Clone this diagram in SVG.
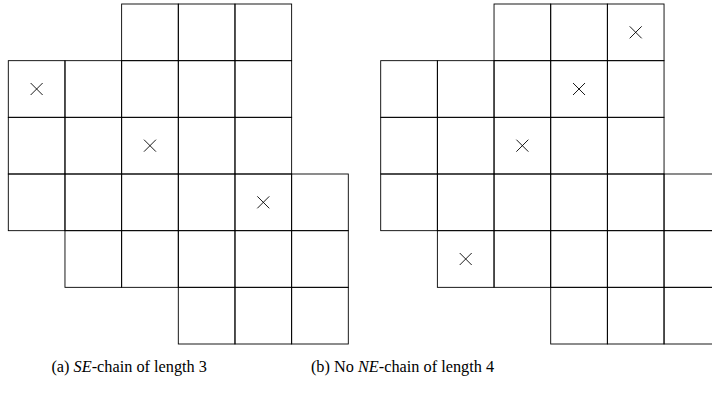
<svg xmlns="http://www.w3.org/2000/svg" xmlns:xlink="http://www.w3.org/1999/xlink" width="712" height="393" viewBox="0 0 712 393">
<style>
.c{fill:none;stroke:#000;stroke-width:0.9}
.x{fill:none;stroke:#000;stroke-width:0.9}
.cap{font-family:"Liberation Serif","Times New Roman",serif;font-size:16.3px;fill:#000}
.m{font-style:italic}
</style>
<defs>
<rect id="cell" class="c" width="56.67" height="56.67"/>
<path id="mark" class="x" d="M-6,-6L6,6M-6,6L6,-6"/>
<g id="grid">
<use xlink:href="#cell" x="113.33" y="0"/><use xlink:href="#cell" x="170" y="0"/><use xlink:href="#cell" x="226.67" y="0"/>
<use xlink:href="#cell" x="0" y="56.67"/><use xlink:href="#cell" x="56.67" y="56.67"/><use xlink:href="#cell" x="113.33" y="56.67"/><use xlink:href="#cell" x="170" y="56.67"/><use xlink:href="#cell" x="226.67" y="56.67"/>
<use xlink:href="#cell" x="0" y="113.33"/><use xlink:href="#cell" x="56.67" y="113.33"/><use xlink:href="#cell" x="113.33" y="113.33"/><use xlink:href="#cell" x="170" y="113.33"/><use xlink:href="#cell" x="226.67" y="113.33"/>
<use xlink:href="#cell" x="0" y="170"/><use xlink:href="#cell" x="56.67" y="170"/><use xlink:href="#cell" x="113.33" y="170"/><use xlink:href="#cell" x="170" y="170"/><use xlink:href="#cell" x="226.67" y="170"/><use xlink:href="#cell" x="283.33" y="170"/>
<use xlink:href="#cell" x="56.67" y="226.67"/><use xlink:href="#cell" x="113.33" y="226.67"/><use xlink:href="#cell" x="170" y="226.67"/><use xlink:href="#cell" x="226.67" y="226.67"/><use xlink:href="#cell" x="283.33" y="226.67"/>
<use xlink:href="#cell" x="170" y="283.33"/><use xlink:href="#cell" x="226.67" y="283.33"/><use xlink:href="#cell" x="283.33" y="283.33"/>
</g>
</defs>
<g id="panel-a" transform="translate(8.3,4)">
<use xlink:href="#grid"/>
<use xlink:href="#mark" x="28.33" y="85"/>
<use xlink:href="#mark" x="141.67" y="141.67"/>
<use xlink:href="#mark" x="255" y="198.33"/>
</g>
<g id="panel-b" transform="translate(380.7,4)">
<use xlink:href="#grid"/>
<use xlink:href="#mark" x="255" y="28.33"/>
<use xlink:href="#mark" x="198.33" y="85"/>
<use xlink:href="#mark" x="141.67" y="141.67"/>
<use xlink:href="#mark" x="85" y="255"/>
</g>
<g id="captions">
<text class="cap" x="129.2" y="372" text-anchor="middle">(a) <tspan class="m">SE</tspan>-chain of length 3</text>
<text class="cap" x="402.5" y="372" text-anchor="middle">(b) No <tspan class="m">NE</tspan>-chain of length 4</text>
</g>
</svg>
